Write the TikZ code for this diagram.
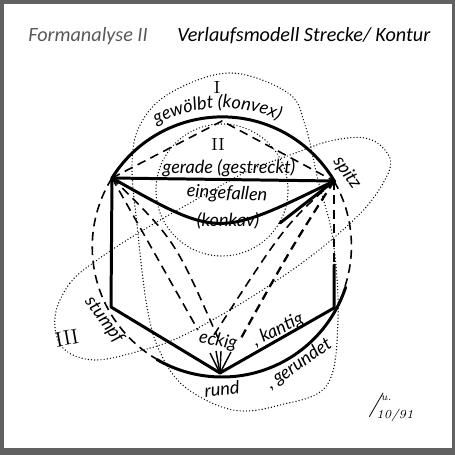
\documentclass[tikz,border=0pt]{standalone}
\usepackage{fontspec}
\newfontfamily\titlefont{Carlito}
\newfontfamily\penfont{Lato}
\usetikzlibrary{decorations.text}
\newcommand{\handfont}{\penfont\fontsize{10.3}{11}\selectfont\itshape}
\begin{document}
\begin{tikzpicture}[x=0.02cm,y=0.02cm,
    thickline/.style={line width=1.7pt, line join=round, line cap=round},
    dashline/.style={line width=0.9pt, dash pattern=on 5pt off 3.2pt},
    dotline/.style={line width=0.8pt, dash pattern=on 0pt off 1.8pt, line cap=round},
    hand/.style={font=\handfont, inner sep=0pt},
    numeral/.style={font=\fontsize{10}{12}\selectfont, inner sep=0pt}]
    % frame
    \fill [black!62] (0,0) rectangle (455,-455);
    \fill [white] (4,-4) rectangle (452,-448);
    \useasboundingbox (0,0) rectangle (455,-455);
    \node [anchor=base west, inner sep=0pt, text=black!65, font=\titlefont\itshape\fontsize{11.5}{13}\selectfont] (formtitle) at (28,-41.5) {Formanalyse II};
    \node [anchor=base west, inner sep=0pt, font=\titlefont\itshape\fontsize{11.5}{13}\selectfont] (modeltitle) at (177,-41.5) {Verlaufsmodell Strecke/ Kontur};
    % key points
    \coordinate (C) at (222,-247);
    \coordinate (L) at (112,-178);
    \coordinate (R) at (334,-181);
    \coordinate (T) at (222,-121);
    \coordinate (LB) at (111,-307);
    \coordinate (B) at (220,-373);
    \coordinate (RB) at (334,-308);
    \coordinate (RM) at (334,-265);
    % dotted loops
    \draw [dotline] plot [smooth cycle, tension=0.6] coordinates {(230,-73) (288,-93) (305,-125) (318,-180) (333,-240) (338,-320) (327,-385) (280,-405) (233,-410) (185,-387) (160,-352) (147,-307) (137,-225) (132,-165) (140,-125) (170,-93)};
    \draw [dotline] (222,-190) circle (66);
    \draw [dotline] plot [smooth cycle, tension=0.6] coordinates {(55,-317) (70,-283) (100,-258) (140,-232) (190,-203) (215,-189) (250,-170) (290,-155) (330,-141) (365,-138) (385,-150) (390,-168) (372,-200) (345,-228) (310,-257) (270,-285) (230,-310) (180,-337) (143,-350) (95,-360) (63,-348)};
    % dashed lines
    \draw [dashline] (L) arc [start angle=148, end angle=240, radius=130];
    \draw [dashline] (R) arc [start angle=30, end angle=-18, radius=130];
    \draw [dashline] (L) -- (T) -- (R);
    \draw [dashline] (R) -- (RM);
    \draw [dashline] (L) -- (198,-330);
    \draw [dashline] (L) .. controls (175,-240) .. (218,-338);
    \draw [dashline] (R) .. controls (285,-225) .. (212,-338);
    \draw [dashline, line width=1.3pt] (R) .. controls (290,-250) .. (240,-340);
    % thick contours
    \draw [thickline] (L) arc [start angle=148, end angle=30, radius=130];
    \draw [thickline] (L) -- (R);
    \draw [thickline] (L) .. controls (218,-238) .. (R);
    \draw [thickline] (R) -- (280,-223);
    \draw [thickline] (L) -- (LB) -- (B) -- (RB) -- (RM);
    \draw [thickline] ([shift={(240:130)}]C) arc [start angle=240, end angle=342, radius=130];
    % eckig strokes
    \foreach \px/\py in {210/353, 216/351, 221/351, 231/352}
        \draw [line width=0.8pt] (\px,-\py) -- (B);
    % labels
    \path [decorate, decoration={text along path, text align=center, text={|\handfont|gewölbt (konvex)}}] ([shift={(124:139)}]C) arc [start angle=124, end angle=60, radius=139];
    \node [numeral] (numI) at (217,-88) {I};
    \node [numeral] (numII) at (218,-145) {II};
    \node [numeral, font=\fontsize{12}{14}\selectfont, rotate=10] (numIII) at (67,-338) {III};
    \node [hand] (gerade) at (229,-168) {gerade (gestreckt)};
    \node [hand, rotate=-3] (eingefallen) at (227,-194) {eingefallen};
    \node [hand] (konkav) at (228,-221) {(konkav)};
    \node [hand, rotate=-55] (spitz) at (347,-173) {spitz};
    \node [hand, rotate=-54] (stumpf) at (104,-320) {stumpf};
    \node [hand, rotate=-10] (eckig) at (218,-341) {eckig};
    \node [hand, rotate=26] (kantig) at (278,-330) {, kantig};
    \node [hand, rotate=5] (rund) at (222,-389) {rund};
    \node [hand, rotate=35] (gerundet) at (299,-364) {, gerundet};
    \node [inner sep=0pt, font=\fontsize{14}{14}\selectfont\itshape] (sign) at (380,-405) {/\raisebox{6pt}{\fontsize{6}{6}\selectfont u.}};
    \node [inner sep=0pt, font=\fontsize{7}{7}\selectfont\itshape] (date) at (395,-415) {10/91};
\end{tikzpicture}
\end{document}
